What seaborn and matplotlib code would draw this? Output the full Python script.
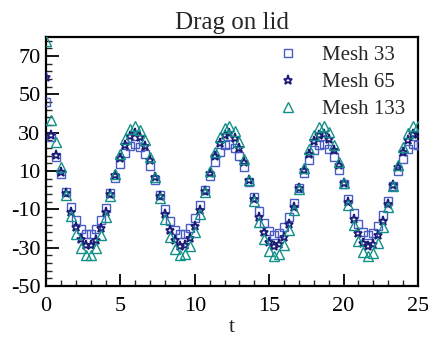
import matplotlib
matplotlib.use("Agg")
import matplotlib.pyplot as plt
from matplotlib.ticker import MultipleLocator, FixedLocator
import seaborn as sns
import pandas as pd

t = [0.00, 0.33, 0.67, 1.00, 1.33, 1.67, 2.00, 2.33, 2.67, 3.00,
     3.33, 3.67, 4.00, 4.33, 4.67, 5.00, 5.33, 5.67, 6.00, 6.33,
     6.67, 7.00, 7.33, 7.67, 8.00, 8.33, 8.67, 9.00, 9.33, 9.67,
     10.00, 10.33, 10.67, 11.00, 11.33, 11.67, 12.00, 12.33, 12.67, 13.00,
     13.33, 13.67, 14.00, 14.33, 14.67, 15.00, 15.33, 15.67, 16.00, 16.33,
     16.67, 17.00, 17.33, 17.67, 18.00, 18.33, 18.67, 19.00, 19.33, 19.67,
     20.00, 20.33, 20.67, 21.00, 21.33, 21.67, 22.00, 22.33, 22.67, 23.00,
     23.33, 23.67, 24.00, 24.33, 24.67, 25.00]

mesh33 = [46.0, 28.0, 17.4, 8.5, -1.0, -8.7, -15.4, -20.2, -22.8, -22.9,
          -20.4, -15.5, -9.0, -1.3, 6.5, 13.7, 19.4, 23.0, 24.2, 22.7,
          18.8, 12.9, 5.6, -2.3, -9.8, -16.2, -20.8, -23.0, -22.7, -19.8,
          -14.6, -7.9, -0.1, 7.7, 14.7, 20.1, 23.4, 24.2, 22.3, 18.0,
          11.9, 4.4, -3.4, -10.8, -17.1, -21.3, -23.1, -22.4, -19.2, -13.7,
          -6.7, 1.1, 8.8, 15.6, 20.8, 23.7, 24.0, 21.8, 17.2, 10.8,
          3.3, -4.6, -11.9, -17.8, -21.7, -23.2, -22.1, -18.6, -12.7, -5.5,
          2.3, 9.9, 16.5, 21.3, 23.9, 23.8]

mesh65 = [59.0, 28.6, 18.4, 9.5, -1.6, -11.2, -19.4, -25.5, -28.8, -28.8,
          -25.7, -19.7, -11.5, -2.0, 7.8, 16.8, 23.8, 28.4, 29.8, 28.0,
          23.1, 15.7, 6.7, -3.1, -12.5, -20.5, -26.2, -29.0, -28.6, -25.0,
          -18.5, -10.1, -0.5, 9.2, 17.9, 24.7, 28.8, 29.7, 27.4, 22.1,
          14.5, 5.2, -4.6, -13.8, -21.6, -26.8, -29.1, -28.2, -24.2, -17.4,
          -8.7, 1.0, 10.6, 19.1, 25.5, 29.1, 29.6, 26.8, 21.1, 13.1,
          3.7, -6.0, -15.1, -22.5, -27.4, -29.2, -27.8, -23.4, -16.2, -7.2,
          2.5, 12.0, 20.2, 26.2, 29.4, 29.4]

mesh133 = [78.0, 36.5, 25.0, 12.0, -2.4, -13.4, -23.0, -29.9, -33.7, -33.8,
           -30.2, -23.2, -13.8, -2.8, 8.4, 18.8, 26.9, 32.1, 33.8, 31.7,
           26.1, 17.6, 7.1, -4.1, -15.0, -24.2, -30.7, -34.0, -33.5, -29.3,
           -21.9, -12.2, -1.1, 10.1, 20.1, 28.0, 32.6, 33.7, 31.1, 25.0,
           16.1, 5.4, -5.8, -16.5, -25.4, -31.5, -34.1, -33.1, -28.4, -20.6,
           -10.5, 0.7, 11.7, 21.5, 28.9, 33.0, 33.6, 30.4, 23.8, 14.6,
           3.7, -7.5, -18.0, -26.5, -32.1, -34.2, -32.6, -27.5, -19.2, -8.9,
           2.4, 13.3, 22.8, 29.7, 33.4, 33.3]

series_names = ["Mesh 33", "Mesh 65", "Mesh 133"]
y_ticks = [-50, -30, -10, 10, 30, 50, 70]
x_ticks = [0, 5, 10, 15, 20, 25]

sns.set_style("white")
plt.rcParams["font.family"] = ["Liberation Serif", "DejaVu Serif"]

fig = plt.figure(figsize=(4.28, 3.39), dpi=100)
ax = fig.add_axes([0.1075, 0.156, 0.869, 0.735])

styles = [
    dict(marker="s", color="#4a5cc4", ms=6.0, mew=1.0),
    dict(marker="*", color="#1d1d78", ms=6.5, mew=1.3),
    dict(marker="^", color="#119088", ms=7.0, mew=1.0),
]
for name, vals, st in zip(series_names, [mesh33, mesh65, mesh133], styles):
    df = pd.DataFrame({"t": t, "v": vals})
    sns.lineplot(data=df, x="t", y="v", ax=ax, linestyle="none",
                 marker=st["marker"], markersize=st["ms"],
                 markerfacecolor="none", markeredgecolor=st["color"],
                 markeredgewidth=st["mew"], color=st["color"], label=name,
                 zorder=3)

ax.set_xlim(0, 25)
ax.set_ylim(-50, 80)
ax.xaxis.set_major_locator(FixedLocator(x_ticks))
ax.xaxis.set_minor_locator(MultipleLocator(1))
ax.yaxis.set_major_locator(FixedLocator(y_ticks))
ax.yaxis.set_minor_locator(FixedLocator([v for v in range(-50, 80, 4)]))
ax.set_xticklabels([str(v) for v in x_ticks])
ax.set_yticklabels([str(v) for v in y_ticks])
ax.tick_params(which="major", direction="in", length=9, width=1.3,
               labelsize=16, colors="black",
               bottom=True, left=True, top=False, right=False)
ax.tick_params(axis="x", which="major", pad=8)
ax.tick_params(axis="y", which="major", pad=4)
ax.tick_params(which="minor", direction="in", length=4.5, width=1.0,
               bottom=True, left=True, top=False, right=False)
for sp in ax.spines.values():
    sp.set_color("black")
    sp.set_linewidth(1.6)

ax.set_xlabel("t", fontsize=16, labelpad=1)
ax.set_ylabel("")
ax.set_title("Drag on lid", fontsize=18, pad=6)

leg = ax.legend(loc="upper right", frameon=False, fontsize=15,
                handlelength=1.0, handletextpad=1.15, labelspacing=0.35,
                borderaxespad=0.2, bbox_to_anchor=(1.0, 1.016))
fig.savefig("out.png", dpi=100)
